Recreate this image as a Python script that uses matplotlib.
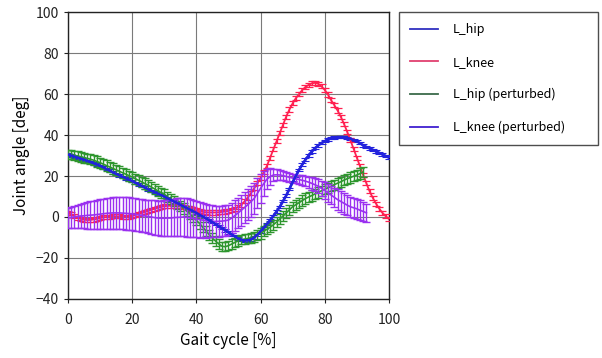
import numpy as np
import matplotlib
matplotlib.use("Agg")
import matplotlib.pyplot as plt
from matplotlib.lines import Line2D

# ── data (joint angle [deg] per 1 % gait cycle) ──────────────────────────────
hip_mean = [
    30.5, 30, 29.5, 29, 28.5, 28, 27.4, 26.8, 26.2, 25.6, 25,
    24.2, 23.4, 22.6, 21.8, 21, 20.3, 19.6, 18.9, 18.2, 17.5,
    16.7, 15.9, 15.1, 14.3, 13.5, 12.8, 12.1, 11.4, 10.7, 10,
    9.2, 8.4, 7.6, 6.8, 6, 5.2, 4.4, 3.6, 2.8, 2,
    1.1, 0.2, -0.7, -1.6, -2.5, -3.5, -4.5, -5.5, -6.5, -7.5,
    -8.5, -9.5, -10.5, -11.1, -11.5, -11.4, -11, -10, -8.7, -7,
    -5.3, -3.5, -1.5, 0.5, 2.7, 5, 7.7, 10.5, 13.7, 17,
    20, 23, 25.6, 28, 30, 32, 33.6, 35, 36.1, 37,
    37.8, 38.5, 38.8, 39, 39, 39, 38.7, 38.2, 37.6, 37,
    36, 35, 34.2, 33.5, 32.8, 32, 31.3, 30.5, 29.8, 29,
]
knee_mean = [
    2, 1.2, 0.5, -0.3, -1, -1.3, -1.5, -1.4, -1.2, -0.9, -0.5,
    -0.2, 0, 0.2, 0.3, 0.3, 0.3, 0.2, 0, 0.2, 0.5,
    1, 1.5, 2, 2.5, 3, 3.5, 4, 4.5, 4.9, 5.3,
    5.4, 5.5, 5.5, 5.5, 5.3, 5, 4.6, 4.2, 3.7, 3.2,
    2.8, 2.5, 2.3, 2.2, 2.2, 2.2, 2.3, 2.5, 2.7, 3,
    3.4, 4, 4.9, 6, 7.6, 9.5, 11.6, 14, 16.5, 19,
    22, 25, 29, 33, 37, 41, 45, 49, 52.5, 55.5,
    58, 60, 62, 63.5, 64.5, 65.3, 65.5, 65, 63.8, 62,
    59.8, 57, 54.6, 52, 49, 45.5, 41.6, 37.5, 33.3, 29,
    24.8, 20.5, 16.4, 12.5, 9.3, 6.5, 4.1, 2, 0.4, -1,
]
hip_p_mean = [
    30.5, 30.3, 30.1, 29.8, 29.4, 29, 28.6, 28.2, 27.7, 27.1, 26.5,
    25.8, 25.1, 24.4, 23.7, 23, 22.3, 21.6, 20.9, 20.2, 19.5,
    18.7, 17.9, 17.1, 16.3, 15.5, 14.6, 13.7, 12.8, 11.9, 11,
    9.9, 8.8, 7.7, 6.6, 5.5, 4.2, 2.9, 1.5, -0.1, -1.6,
    -3.2, -5, -6.8, -8.6, -10.3, -11.8, -13.2, -14.3, -14.5, -14,
    -13.2, -12.4, -11.7, -11.1, -10.8, -10.5, -10.1, -9.6, -8.9, -8,
    -7, -6, -5, -3.8, -2.5, -1, 0.5, 2, 3.5, 5,
    6, 7, 8, 9, 9.8, 10.5, 11.3, 12, 12.8, 13.5,
    14.3, 15, 15.8, 16.5, 17.2, 18, 18.7, 19.3, 19.9, 20.5,
    21.2, 22,
]
hip_p_sd = [
    2.2, 2.2, 2.3, 2.3, 2.4, 2.4, 2.4, 2.5, 2.5, 2.5, 2.5,
    2.5, 2.5, 2.5, 2.5, 2.5, 2.5, 2.5, 2.5, 2.5, 2.5,
    2.5, 2.5, 2.5, 2.5, 2.5, 2.5, 2.5, 2.5, 2.5, 2.5,
    2.5, 2.5, 2.5, 2.5, 2.5, 2.5, 2.5, 2.5, 2.5, 2.5,
    2.5, 2.5, 2.5, 2.4, 2.4, 2.3, 2.3, 2.3, 2.3, 2.3,
    2.3, 2.3, 2.3, 2.3, 2.3, 2.4, 2.4, 2.4, 2.4, 2.5,
    2.5, 2.5, 2.5, 2.5, 2.5, 2.5, 2.5, 2.5, 2.5, 2.5,
    2.5, 2.5, 2.5, 2.5, 2.5, 2.5, 2.5, 2.5, 2.5, 2.5,
    2.5, 2.5, 2.5, 2.5, 2.5, 2.5, 2.5, 2.5, 2.5, 2.5,
    2.5, 2.5,
]
knee_p_mean = [
    -0.5, -0.2, 0, 0.3, 0.5, 0.6, 0.8, 0.9, 1, 1.2, 1.4,
    1.6, 1.8, 1.9, 2, 2, 2, 1.9, 1.8, 1.7, 1.5,
    1.3, 1, 0.8, 0.5, 0.2, 0, -0.3, -0.5, -0.6, -0.6,
    -0.5, -0.5, -0.3, -0.2, -0.1, 0, -0.2, -0.4, -0.7, -1,
    -1.3, -1.5, -1.8, -2, -2.1, -2.2, -2.1, -2, -1.8, -1.5,
    -0.5, 0.7, 2, 3.3, 4.6, 6, 7.5, 9, 11.5, 14,
    16.3, 18.5, 19.7, 20.5, 20.6, 20.5, 20.2, 19.8, 19.4, 19,
    18.6, 18.3, 17.9, 17.5, 17, 16.4, 15.7, 15, 14, 13,
    11.8, 10.7, 9.6, 8.5, 7.6, 6.7, 5.8, 5, 4.5, 4,
    3.3, 2.7, 2,
]
knee_p_sd = [
    5, 5.2, 5.5, 5.7, 6, 6.2, 6.5, 6.8, 7, 7.1, 7.2,
    7.4, 7.5, 7.6, 7.8, 7.9, 8, 8, 8, 8, 8,
    8, 8, 8, 8, 8.1, 8.2, 8.4, 8.5, 8.6, 8.7,
    8.9, 9, 9.1, 9.3, 9.4, 9.5, 9.4, 9.3, 9.1, 9,
    8.8, 8.5, 8.3, 8, 7.8, 7.7, 7.6, 7.5, 7.5, 7.5,
    7.5, 7.5, 7.5, 7.5, 7.5, 7.5, 7.5, 7.5, 7.3, 7,
    6, 5, 4, 3, 2.7, 2.5, 2.3, 2.2, 2.1, 2,
    2.1, 2.2, 2.4, 2.5, 2.7, 3, 3.2, 3.5, 3.8, 4,
    4.3, 4.5, 4.8, 5, 5, 5, 5, 5, 5, 5,
    4.8, 4.7, 4.5,
]
hip_sd = 0.6
knee_sd = 1.0

labels = ["L_hip", "L_knee", "L_hip (perturbed)", "L_knee (perturbed)"]
colours = ["#2222dd", "#ff2050", "#2e962e", "#9a30f0"]
legend_colours = ["#3030c0", "#e04070", "#3a6a4a", "#4020d0"]

# ── figure ───────────────────────────────────────────────────────────────────
plt.rcParams["font.family"] = ["Noto Sans CJK JP", "DejaVu Sans"]
fig = plt.figure(figsize=(6.02, 3.58), dpi=100)
ax = fig.add_axes([0.113, 0.165, 0.533, 0.801])

series = [
    (hip_mean, hip_sd, colours[0], 1.6, 0.8),
    (knee_mean, knee_sd, colours[1], 1.3, 0.9),
    (hip_p_mean, hip_p_sd, colours[2], 1.2, 1.0),
    (knee_p_mean, knee_p_sd, colours[3], 1.2, 1.0),
]
for z, (mean, sd, col, lw, elw) in enumerate(series):
    x = np.arange(len(mean))
    ax.errorbar(x, mean, yerr=sd, color=col, lw=lw, elinewidth=elw,
                capsize=2.6, capthick=elw, zorder=3 + z)
# hip line sits on top of the perturbed bands in the reference
ax.plot(np.arange(len(hip_mean)), hip_mean, color=colours[0], lw=1.8, zorder=8)

ax.set_xlim(0, 100)
ax.set_ylim(-40, 100)
ax.set_xticks(range(0, 101, 20))
ax.set_yticks(range(-40, 101, 20))
ax.grid(True, color="#7a7a7a", lw=0.8)
ax.set_axisbelow(True)
for s in ax.spines.values():
    s.set_linewidth(1.0)
    s.set_color("#222222")
ax.tick_params(labelsize=10, length=3, colors="#222222")
ax.tick_params(axis="x", pad=7)
ax.set_xlabel("Gait cycle [%]", fontsize=11, labelpad=4)
ax.set_ylabel("Joint angle [deg]", fontsize=11, labelpad=4)

handles = [Line2D([0], [0], color=c, lw=1.3) for c in legend_colours]
leg = fig.legend(handles, labels, loc="upper left",
                 bbox_to_anchor=(0.663, 0.603, 0.331, 0.363),
                 bbox_transform=fig.transFigure, mode="expand",
                 fontsize=9, frameon=True, fancybox=False,
                 edgecolor="#222222", labelspacing=1.55,
                 handlelength=2.2, handletextpad=1.2, borderpad=0.9,
                 borderaxespad=0)
leg.get_frame().set_linewidth(1.0)

fig.savefig("out.png", dpi=100)
